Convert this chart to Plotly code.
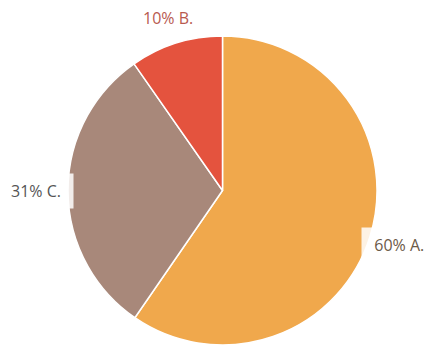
import math
import plotly.graph_objects as go

# Share of each category (percent), drawn clockwise from 12 o'clock
categories = ["A.", "C.", "B."]
values = [59.6, 30.7, 9.7]
slice_colors = ["#F0A84C", "#A8887A", "#E4533E"]
label_colors = ["#6b5a48", "#555555", "#b85a50"]

W, H = 424, 350
cx, cy, r = 222.5, 190.5, 154.5  # pie centre and radius in px

fig = go.Figure(
    go.Pie(
        labels=categories,
        values=values,
        sort=False,
        direction="clockwise",
        rotation=0,
        marker=dict(colors=slice_colors, line=dict(color="white", width=1.5)),
        textinfo="none",
        hoverinfo="label+percent",
        domain=dict(
            x=[(cx - r) / W, (cx + r) / W],
            y=[1 - (cy + r) / H, 1 - (cy - r) / H],
        ),
    )
)

# Outside labels: height follows the slice's mid-angle, side labels sit on the rim
total = sum(values)
start = 0.0
annotations = []
for name, v, col in zip(categories, values, label_colors):
    frac = v / total
    mid = (start + frac / 2) * 2 * math.pi
    start += frac
    s, c = math.sin(mid), math.cos(mid)
    pct = f"{round(frac * 100)}% {name}"
    if abs(s) > 0.5:
        py = cy - (r + 30) * c
        rim = math.sqrt(max(r * r - (py - cy) ** 2, 0.0))
        if s > 0:
            px, xa, txt = cx + rim - 6, "left", "&nbsp;&nbsp;" + pct
        else:
            px, xa, txt = cx - rim + 6, "right", pct + "&nbsp;&nbsp;"
    else:
        dist = r + 26
        px, py, xa, txt = cx + dist * s, cy - dist * c, "center", pct
    annotations.append(
        dict(
            x=px / W,
            y=1 - py / H,
            xref="paper",
            yref="paper",
            text=txt,
            showarrow=False,
            xanchor=xa,
            yanchor="middle",
            height=26,
            valign="middle",
            font=dict(family="Open Sans", size=16, color=col),
            bgcolor="rgba(255,255,255,0.85)",
            borderpad=4,
        )
    )

fig.update_layout(
    width=W,
    height=H,
    margin=dict(l=0, r=0, t=0, b=0),
    paper_bgcolor="white",
    plot_bgcolor="white",
    showlegend=False,
    annotations=annotations,
)

fig.write_html("out.html")
